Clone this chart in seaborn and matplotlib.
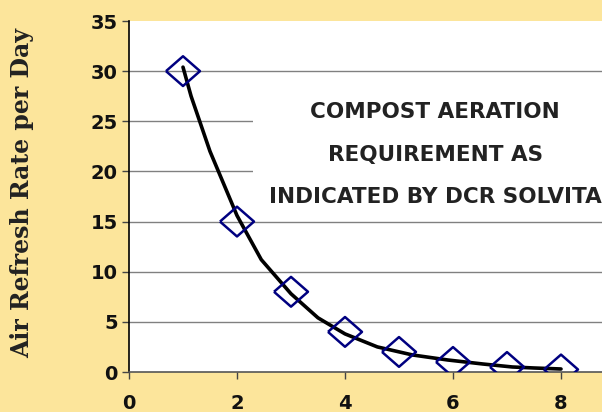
import matplotlib
matplotlib.use("Agg")
import matplotlib.pyplot as plt
import seaborn as sns
import pandas as pd
from matplotlib.patches import Rectangle

# measured points (diamonds)
days = [1, 2, 3, 4, 5, 6, 7, 8]
refresh_rate = [30, 15, 8, 4, 2, 1, 0.5, 0.25]

# smoothed trend curve
curve_x = [1.0, 1.15, 1.5, 2.0, 2.45, 3.0, 3.5, 4.0, 4.6, 5.25, 5.9, 6.55, 7.1, 7.5, 8.0]
curve_y = [30.4, 27.5, 22.0, 15.6, 11.2, 7.8, 5.4, 3.8, 2.5, 1.7, 1.2, 0.8, 0.5, 0.4, 0.3]

y_ticks = [0, 5, 10, 15, 20, 25, 30, 35]
x_ticks = [0, 2, 4, 6, 8]
note_lines = ["COMPOST AERATION", "REQUIREMENT AS", "INDICATED BY DCR SOLVITA"]
note_rows = [25.9, 21.6, 17.5]

points = pd.DataFrame({"day": days, "rate": refresh_rate})
curve = pd.DataFrame({"x": curve_x, "y": curve_y})

sns.set_theme(style="white")
plt.rcParams["font.family"] = ["DejaVu Sans"]
plt.rcParams["font.weight"] = "bold"

bg = "#FCE59B"
fig = plt.figure(figsize=(6.02, 4.12), dpi=100, facecolor=bg)
ax = fig.add_axes([129 / 602, 40 / 412, 1 - 129 / 602, 351 / 412])
ax.set_facecolor("white")

for v in y_ticks[1:-1]:
    ax.axhline(v, color="#808080", lw=1.0, zorder=1)

# white label box that hides part of the grid
ax.add_patch(Rectangle((2.3, 16.2), 7, 12.9, facecolor="white", edgecolor="none", zorder=2))
for line, row in zip(note_lines, note_rows):
    ax.text(5.67, row, line, ha="center", va="center", fontsize=15.5,
            fontweight="bold", color="#222222", zorder=3)

sns.lineplot(data=curve, x="x", y="y", ax=ax, color="black", lw=2.6, zorder=4,
             sort=False, estimator=None)
diamond = [(-1, 0), (0, 0.875), (1, 0), (0, -0.875), (-1, 0)]
sns.scatterplot(data=points, x="day", y="rate", ax=ax, marker=diamond, s=600,
                facecolor="none", edgecolor="#000080", linewidth=1.8, zorder=5)

ax.set_xlim(0, 473 / 54)
ax.set_ylim(0, 35)
ax.set_xticks(x_ticks)
ax.set_yticks(y_ticks)
ax.tick_params(axis="both", direction="out", length=5, width=1, color="#444444",
               labelsize=14, labelcolor="#111111", left=True, bottom=True)
ax.tick_params(axis="y", pad=3)
ax.tick_params(axis="x", pad=11)
plt.setp(ax.get_xticklabels() + ax.get_yticklabels(), fontweight="bold")

for side in ["top", "right"]:
    ax.spines[side].set_visible(False)
ax.spines["left"].set_color("black")
ax.spines["left"].set_linewidth(1.2)
ax.spines["bottom"].set_color("#555555")
ax.spines["bottom"].set_linewidth(1.2)

ax.set_xlabel("")
ax.set_ylabel("Air Refresh Rate per Day", fontsize=17, fontweight="bold",
              family="DejaVu Serif", color="#222222")
ax.yaxis.set_label_coords(-0.2, 0.51)

fig.savefig("out.png", dpi=100, facecolor=bg)
